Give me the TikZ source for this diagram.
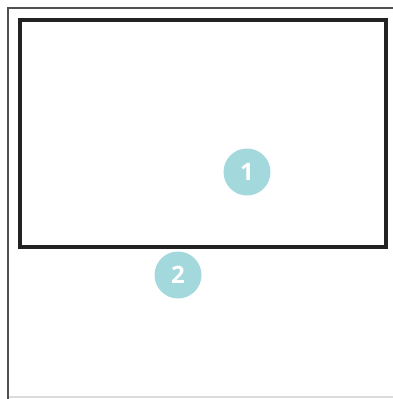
\documentclass[tikz,border=0pt]{standalone}
\usepackage{fontspec}
\setsansfont{Open Sans}
\usepackage{tikz}
\usetikzlibrary{positioning}
\definecolor{cMark}{RGB}{163,216,220}
\definecolor{cFrame}{RGB}{34,34,34}
\definecolor{cEdge}{RGB}{80,80,80}
\definecolor{cFoot}{RGB}{220,220,220}
\tikzset{
  area/.style={draw=cFrame, line width=4pt, minimum width=366pt, minimum height=227pt,
               inner sep=0pt, outer sep=0pt, anchor=north west},
  marker/.style={circle, fill=cMark, minimum size=47pt, inner sep=0pt,
                 text=white, font=\sffamily\bfseries\fontsize{24}{26}\selectfont},
  rim/.style={draw=cEdge, line width=1.6pt},
  foot/.style={draw=cFoot, line width=1.4pt},
}
\begin{document}
\begin{tikzpicture}[x=1pt, y=-1pt]
  \useasboundingbox (0,0) rectangle (393,399);
  % outer page edges
  \coordinate (tl) at (8,8);
  \coordinate (tr) at (393,8);
  \coordinate (bl) at (8,399);
  \coordinate (fl) at (9,397);
  \coordinate (fr) at (393,397);
  \draw[rim] (tr) -- (tl) -- (bl);
  \draw[foot] (fl) -- (fr);

  % main box
  \node[area] (box) at (20,20) {};

  % markers
  \node[marker] (m1) at (247,172) {1};
  \node[marker] (m2) at (178,275) {2};
\end{tikzpicture}
\end{document}
